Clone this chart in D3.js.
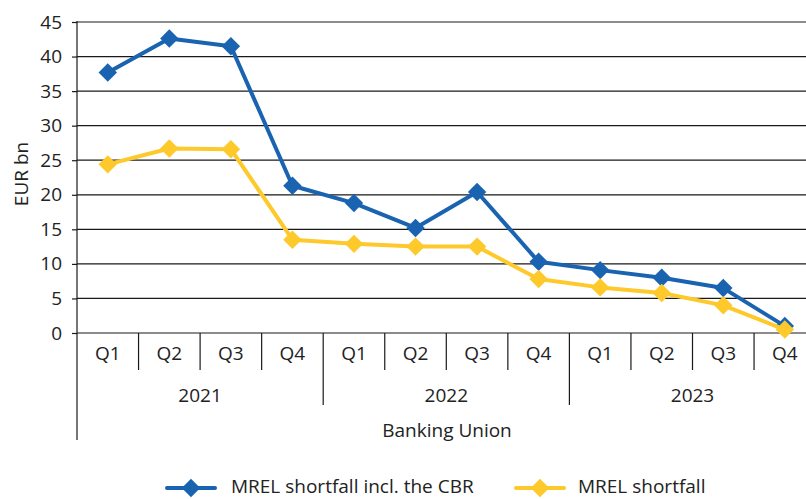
<!DOCTYPE html>
<html><head><meta charset="utf-8">
<script src="https://cdn.jsdelivr.net/npm/d3@7"></script>
<style>body{margin:0;background:#fff;overflow:hidden}text{font-family:"Open Sans",sans-serif;fill:#222}</style>
</head><body>
<svg id="c" width="806" height="499"></svg>
<script>
const years = ["2021","2022","2023"];
const quarters = ["Q1","Q2","Q3","Q4"];
const seriesNames = ["MREL shortfall incl. the CBR","MREL shortfall"];
const mrelCBR = [37.7,42.6,41.5,21.3,18.8,15.2,20.4,10.3,9.1,8.0,6.5,1.0];
const mrel = [24.4,26.7,26.6,13.5,12.9,12.5,12.5,7.8,6.6,5.8,4.0,0.5];
const yTicks = [0,5,10,15,20,25,30,35,40,45];
const colors = ["#1a63b0","#fdc92b"];

const svg = d3.select("#c");
const L = 77, T = 22, B = 333, step = 61.55;
const FS = "19px";
const cats = [];
years.forEach(y => quarters.forEach(q => cats.push(y + "-" + q)));
const x = d3.scaleBand().domain(cats).range([L, L + step * cats.length]).padding(0);
const y = d3.scaleLinear().domain([0,45]).range([B, T]);

// gridlines
svg.append("g").selectAll("line").data(yTicks.filter(d=>d>0)).join("line")
  .attr("x1", L).attr("x2", 806).attr("y1", d=>y(d)).attr("y2", d=>y(d))
  .attr("stroke", "#1a1a1a").attr("stroke-width", 1.2);

// y axis
const ya = svg.append("g").attr("transform", `translate(${L},0)`)
  .call(d3.axisLeft(y).tickValues(yTicks).tickSize(5).tickPadding(10));
ya.select(".domain").remove();
ya.selectAll("line").attr("stroke","#1a1a1a").attr("stroke-width",1.2);
ya.selectAll("text").style("font-size",FS).style("font-family","Open Sans").attr("fill","#222");

// y axis line
svg.append("line").attr("x1",L).attr("x2",L).attr("y1",T-1).attr("y2",440)
  .attr("stroke","#1a1a1a").attr("stroke-width",1.2);
// x baseline
svg.append("line").attr("x1",L).attr("x2",806).attr("y1",B).attr("y2",B)
  .attr("stroke","#1a1a1a").attr("stroke-width",1.2);

// quarter dividers
cats.forEach((c,i) => {
  if (i === 0) return;
  const xx = x(c);
  const isYear = i % 4 === 0;
  svg.append("line").attr("x1",xx).attr("x2",xx).attr("y1",B).attr("y2", isYear ? 405 : 370)
    .attr("stroke","#1a1a1a").attr("stroke-width",1.2);
});
// quarter labels
svg.append("g").selectAll("text").data(cats).join("text")
  .attr("x", d=>x(d)+x.bandwidth()/2).attr("y", 360).attr("text-anchor","middle")
  .style("font-size",FS).text(d=>d.split("-")[1]);
// year labels
svg.append("g").selectAll("text").data(years).join("text")
  .attr("x", (d,i)=> (x(d+"-Q1") + x(d+"-Q4") + x.bandwidth())/2).attr("y", 402).attr("text-anchor","middle")
  .style("font-size",FS).text(d=>d);
svg.append("text").attr("x", 447).attr("y", 437).attr("text-anchor","middle")
  .style("font-size",FS).text("Banking Union");

// y label
svg.append("text").attr("transform","translate(28,174) rotate(-90)").attr("text-anchor","middle")
  .style("font-size",FS).text("EUR bn");

const line = d3.line().x((d,i)=>x(cats[i])+x.bandwidth()/2).y(d=>y(d));
const sq = d3.symbol().type(d3.symbolSquare).size(170)();
[mrelCBR, mrel].forEach((vals, k) => {
  const g = svg.append("g");
  g.append("path").datum(vals).attr("d", line).attr("fill","none")
    .attr("stroke", colors[k]).attr("stroke-width", 4).attr("stroke-linejoin","round");
  g.selectAll("path.m").data(vals).join("path").attr("class","m")
    .attr("d", sq)
    .attr("transform",(d,i)=>`translate(${x(cats[i])+x.bandwidth()/2},${y(d)}) rotate(45)`)
    .attr("fill", colors[k]);
});

// legend
const leg = [{x:167, tx:231},{x:516, tx:578}];
seriesNames.forEach((n,k) => {
  const g = svg.append("g");
  g.append("line").attr("x1",leg[k].x).attr("x2",leg[k].x+48).attr("y1",488).attr("y2",488)
    .attr("stroke",colors[k]).attr("stroke-width",4).attr("stroke-linecap","round");
  g.append("path").attr("d", sq)
    .attr("transform",`translate(${leg[k].x+24},488) rotate(45)`).attr("fill",colors[k]);
  g.append("text").attr("x",leg[k].tx).attr("y",493).style("font-size",FS).text(n);
});
</script>
</body></html>
